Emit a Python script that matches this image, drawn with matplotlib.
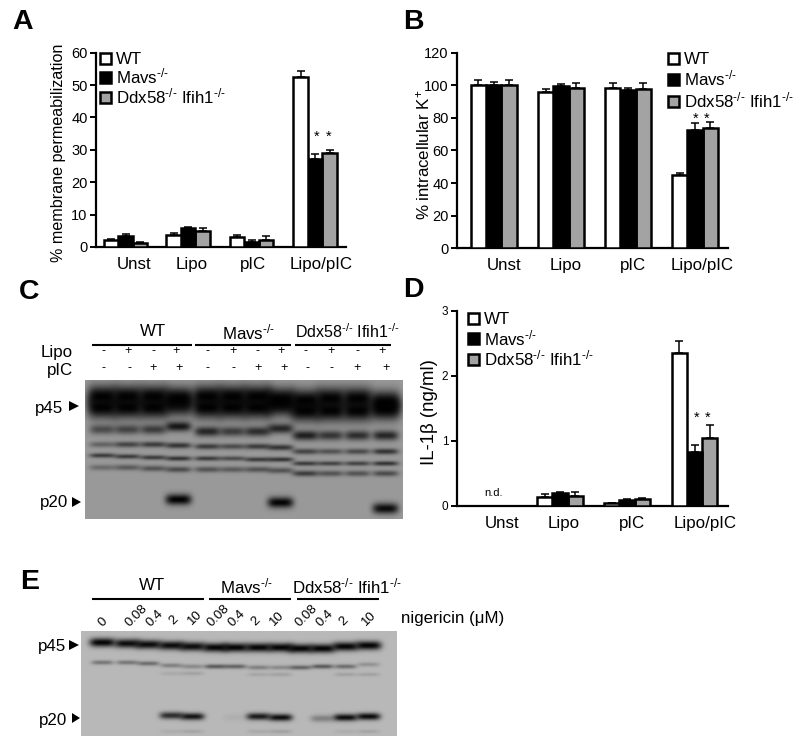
import numpy as np
import matplotlib
matplotlib.use("Agg")
import matplotlib.pyplot as plt
from matplotlib.patches import Patch, Polygon

plt.rcParams["font.family"] = ["Liberation Sans", "DejaVu Sans"]
plt.rcParams["mathtext.fontset"] = "custom"
plt.rcParams["mathtext.rm"] = "Liberation Sans"
plt.rcParams["mathtext.default"] = "rm"

W, H = 800, 744

KO = "$^{\u2010/\u2010}$"
GROUPS = ["Unst", "Lipo", "pIC", "Lipo/pIC"]
GENOTYPES = ["WT", "Mavs" + KO, "Ddx58" + KO + " Ifih1" + KO]
COLORS = ["white", "black", "#a3a3a3"]

# panel A, % membrane permeabilization
a_wt = [2.2, 3.7, 3.2, 52.5]
a_mavs = [3.4, 6.0, 1.6, 27.2]
a_ddx = [1.1, 5.0, 2.1, 29.0]
a_wt_err = [0.4, 0.6, 0.6, 2.0]
a_mavs_err = [0.7, 0.3, 0.6, 1.4]
a_ddx_err = [0.3, 1.0, 1.2, 1.0]

# panel B, % intracellular K+
b_wt = [100, 96, 98.5, 45]
b_mavs = [100, 99.5, 97, 72.5]
b_ddx = [100, 98.5, 98, 74]
b_wt_err = [3.5, 2.0, 3.2, 1.5]
b_mavs_err = [2.0, 1.2, 1.5, 4.5]
b_ddx_err = [3.5, 2.8, 3.7, 3.5]

# panel D, IL-1b ng/ml
d_wt = [0, 0.14, 0.05, 2.35]
d_mavs = [0, 0.20, 0.09, 0.83]
d_ddx = [0, 0.16, 0.11, 1.04]
d_wt_err = [0, 0.05, 0.0, 0.18]
d_mavs_err = [0, 0.02, 0.02, 0.11]
d_ddx_err = [0, 0.06, 0.02, 0.20]

# blot C: 12 lanes, y of each band, thickness, how dark per lane, lane half width
c_lanes = [102, 127, 153, 178, 207, 232, 257, 280, 305, 330, 357, 385]
c_bands = [
    ([396, 396, 396, 398, 396, 396, 396, 399, 400, 398, 398, 402], 11, [.98] * 12, 15),
    ([407, 407, 407, 404, 407, 407, 407, 404, 410, 410, 410, 408], 11, [.98, .98, .98, .85, .98, .98, .98, .88, .98, .98, .98, .98], 15),
    ([429, 429, 429, 426, 431, 431, 431, 428, 435, 435, 435, 435], 5, [.5, .55, .6, .85, .75, .6, .7, .75, .8, .65, .7, .75], 13),
    ([444, 444, 444, 445, 446, 446, 446, 447, 451, 451, 451, 451], 3, [.35, .55, .6, .65, .6, .5, .6, .65, .55, .45, .5, .65], 13),
    ([455, 456, 457, 458, 458, 458, 459, 459, 463, 463, 463, 463], 2.4, [.6, .6, .6, .65, .6, .5, .6, .65, .6, .55, .55, .65], 13),
    ([467, 467, 468, 469, 469, 469, 469, 470, 473, 473, 473, 473], 3, [.3, .4, .45, .5, .45, .4, .45, .45, .6, .45, .45, .5], 13),
    ([498, 498, 498, 499, 502, 502, 502, 502, 508, 508, 508, 508], 5.5, [0, 0, 0, .99, 0, 0, 0, .97, 0, 0, 0, .92], 13),
]

# blot E: 13 lanes
e_lanes = [102, 127, 148, 171, 192, 215, 235, 258, 280, 300, 322, 345, 368]
e_bands = [
    ([642, 643, 644, 645, 646, 647, 647, 647, 647, 648, 648, 646, 645], 4.5, [.97, .93, .93, .93, .93, .97, .97, .97, .97, .97, .97, .97, .97], 13),
    ([662, 662, 663, 665, 666, 666, 666, 667, 667, 667, 666, 666, 664], 2.3, [.35, .35, .4, .3, .25, .5, .45, .3, .25, .45, .5, .4, .2], 11),
    ([673, 673, 673, 673, 673, 674, 674, 674, 674, 674, 674, 674, 674], 2, [0, 0, 0, .08, .12, 0, 0, .1, .12, 0, 0, .12, .12], 11),
    ([716, 716, 716, 715, 716, 716, 717, 716, 717, 717, 718, 717, 716], 3.6, [0, 0, 0, .75, .88, 0, .05, .85, .92, 0, .3, .92, .93], 12),
    ([731, 731, 731, 731, 731, 731, 731, 731, 731, 731, 731, 731, 731], 2, [0, 0, 0, .06, .1, 0, 0, .08, .12, 0, 0, .06, .1], 11),
]

e_doses = ["0", "0.08", "0.4", "2", "10", "0.08", "0.4", "2", "10", "0.08", "0.4", "2", "10"]
lipo_signs = ["-", "+", "-", "+"] * 3
pic_signs = ["-", "-", "+", "+"] * 3


fig = plt.figure(figsize=(W / 100, H / 100), dpi=100, facecolor="white")

# pixel overlay for the labels and the blots
px = fig.add_axes([0, 0, 1, 1], zorder=5)
px.set_xlim(0, W)
px.set_ylim(H, 0)
px.axis("off")
px.patch.set_alpha(0)


def bar_panel(box, centers, label_x, width, ymax, ticks, vals, errs, tick_size, leg_xy, leg_gap):
    left, right, top, bottom = box
    ax = fig.add_axes([left / W, 1 - bottom / H, (right - left) / W, (bottom - top) / H])
    for i in range(3):
        xs = [c + (i - 1) * width for c in centers]
        ax.bar(xs, vals[i], width, color=COLORS[i], edgecolor="black", linewidth=1.8,
               yerr=[[0] * 4, errs[i]], capsize=3.2,
               error_kw=dict(ecolor="black", elinewidth=1.1, capthick=1.1), zorder=3 - i * 0.1)
    ax.set_xlim(left, right)
    ax.set_ylim(0, ymax)
    ax.set_yticks(ticks)
    ax.set_xticks(label_x)
    ax.set_xticklabels(GROUPS, fontsize=12.2)
    ax.tick_params(axis="x", length=0, pad=7)
    ax.tick_params(axis="y", length=4, width=1.4, pad=2, labelsize=tick_size)
    for s in ["top", "right"]:
        ax.spines[s].set_visible(False)
    for s in ["left", "bottom"]:
        ax.spines[s].set_linewidth(1.6)
    handles = [Patch(facecolor=c, edgecolor="black", linewidth=1.8) for c in COLORS]
    ax.legend(handles, GENOTYPES, loc="upper left", bbox_to_anchor=(leg_xy[0] / W, 1 - leg_xy[1] / H),
              bbox_transform=fig.transFigure, frameon=False, fontsize=12.2, borderpad=0, borderaxespad=0,
              handlelength=0.62, handleheight=0.62, handletextpad=0.3, labelspacing=leg_gap)
    return ax


def blot(x0, x1, y0, y1, bg, lanes, bands):
    ys, xs = np.mgrid[y0:y1, x0:x1]
    img = np.full(xs.shape, bg, dtype=float)
    for band_y, sig, dark, lane_w in bands:
        for lx, by, d in zip(lanes, band_y, dark):
            if d == 0:
                continue
            prof = np.exp(-((xs - lx) / lane_w) ** 4) * np.exp(-((ys - by) / sig) ** 2)
            img *= 1 - d * prof
    px.imshow(img, cmap="gray", vmin=0, vmax=1, extent=[x0, x1, y1, y0], aspect="auto",
              interpolation="bilinear")
    px.set_xlim(0, W)
    px.set_ylim(H, 0)


def arrow(x0, x1, y):
    px.add_patch(Polygon([[x0, y - 5], [x1, y], [x0, y + 5]], closed=True, color="black", lw=0))


bar_panel((96, 346, 52.7, 247), [125.5, 188, 251.5, 315], [134, 192, 253, 321], 14.5, 60,
          range(0, 61, 10), [a_wt, a_mavs, a_ddx], [a_wt_err, a_mavs_err, a_ddx_err], 10.5, (100.5, 52), 0.0)
bar_panel((457, 728, 52.7, 248.3), [493.7, 561, 628, 695], [504, 566, 632.5, 702], 15.4, 120,
          range(0, 121, 20), [b_wt, b_mavs, b_ddx], [b_wt_err, b_mavs_err, b_ddx_err], 10.5, (668, 52), 0.1)
bar_panel((456.7, 728, 310.7, 506), [493, 560, 627, 694.5], [502, 564, 632, 705], 15.2, 3,
          [0, 1, 2, 3], [d_wt, d_mavs, d_ddx], [d_wt_err, d_mavs_err, d_ddx_err], 8.5, (468, 312), 0.06)

for letter, x, y in [("A", 12, 22), ("B", 403, 22), ("C", 19, 292), ("D", 403, 290), ("E", 20, 582)]:
    px.text(x, y, letter, fontsize=20.5, fontweight="bold", ha="left", va="center")

px.text(58, 153, "% membrane permeabilization", fontsize=11.6, rotation=90, ha="center", va="center")
px.text(423, 155, "% intracellular K$^{+}$", fontsize=12.2, rotation=90, ha="center", va="center")
px.text(429, 412, "IL-1β (ng/ml)", fontsize=13.4, rotation=90, ha="center", va="center")
px.text(494, 493, "n.d.", fontsize=8, ha="center", va="center")

for x, y in [(317, 137), (329, 137), (696, 119), (707, 119), (697, 418), (708, 418)]:
    px.text(x, y, "*", fontsize=10.5, ha="center", va="center")

# panel C
blot(85, 403, 380, 519, 0.60, c_lanes, c_bands)
px.text(153, 332, "WT", fontsize=12.2, ha="center", va="center")
px.text(249, 332, GENOTYPES[1], fontsize=12.2, ha="center", va="center")
px.text(347, 332, GENOTYPES[2], fontsize=11.5, ha="center", va="center")
for x0, x1 in [(92, 192), (195, 291), (295, 391)]:
    px.plot([x0, x1], [345, 345], color="black", lw=1.5, solid_capstyle="butt")
lipo_x = [104, 128, 153, 176, 208, 233, 257, 281, 306, 331, 357, 382]
pic_x = [104, 129, 153, 179, 208, 233, 258, 284, 307, 331, 357, 386]
for x, s in zip(lipo_x, lipo_signs):
    px.text(x, 351, s, fontsize=9, ha="center", va="center")
for x, s in zip(pic_x, pic_signs):
    px.text(x, 368, s, fontsize=9, ha="center", va="center")
px.text(73, 353, "Lipo", fontsize=12.2, ha="right", va="center")
px.text(73, 370, "pIC", fontsize=12.2, ha="right", va="center")
px.text(63, 408, "p45", fontsize=12.2, ha="right", va="center")
px.text(68, 503, "p20", fontsize=12.2, ha="right", va="center")
arrow(69, 79, 406)
arrow(72, 81, 502)

# panel E
blot(81, 397, 631, 736, 0.72, e_lanes, e_bands)
for name, x in [("WT", 152), (GENOTYPES[1], 247), (GENOTYPES[2], 347)]:
    px.text(x, 586, name, fontsize=12.2, ha="center", va="center")
for x0, x1 in [(92, 204), (209, 291), (297, 379)]:
    px.plot([x0, x1], [599, 599], color="black", lw=1.5, solid_capstyle="butt")
dose_x = [103, 136, 155, 174, 195, 218, 237, 256, 277, 306, 325, 344, 369]
dose_y = [622, 616, 618, 620, 618, 616, 618, 621, 619, 616, 618, 621, 619]
for x, y, s in zip(dose_x, dose_y, e_doses):
    px.text(x, y, s, fontsize=9.5, rotation=45, ha="center", va="center")
px.text(401, 619, "nigericin (μM)", fontsize=12.2, ha="left", va="center")
px.text(66, 646, "p45", fontsize=12.2, ha="right", va="center")
px.text(67, 720, "p20", fontsize=12.2, ha="right", va="center")
arrow(69, 79, 645)
arrow(72, 80, 718)

fig.savefig("out.png", dpi=100)
